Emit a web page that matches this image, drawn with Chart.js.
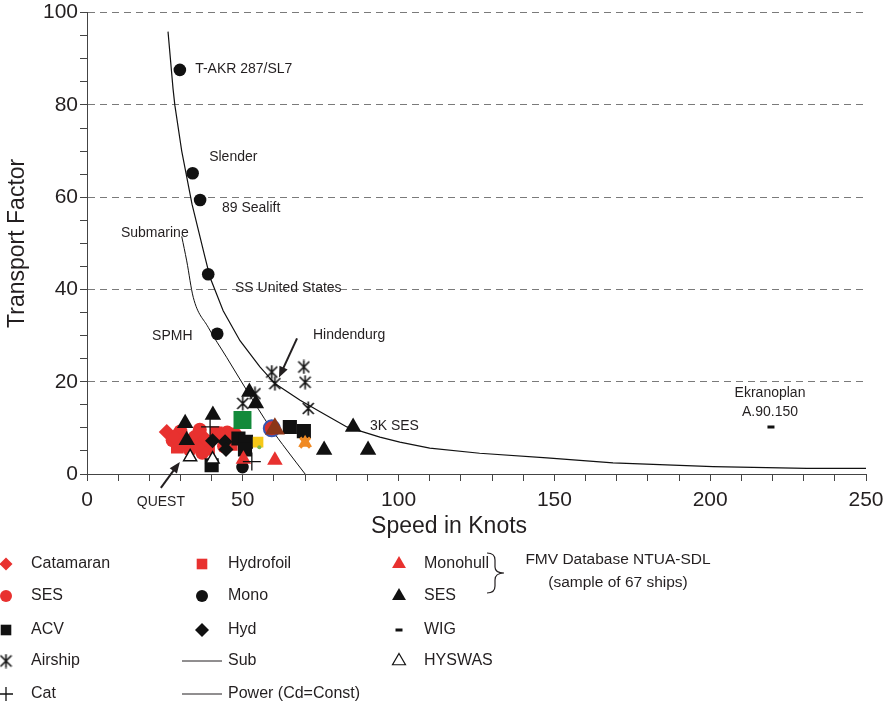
<!DOCTYPE html>
<html>
<head>
<meta charset="utf-8">
<script src="https://cdn.jsdelivr.net/npm/chart.js@4/dist/chart.umd.min.js"></script>
<style>
  html, body { margin: 0; padding: 0; background: #fff; }
  #wrap { width: 890px; height: 708px; }
</style>
</head>
<body>
<div id="wrap"><canvas id="tf" width="890" height="708"></canvas></div>
<script>
// [speed in knots, transport factor]
const catamaran = [[25.6,9.1],[28.0,8.0],[30.3,6.4],[35.5,6.2],[38.0,7.6],[42.5,8.6]];
const sesRed    = [[27.5,7.3],[30.0,9.2],[33.0,5.3],[34.6,8.0],[37.0,4.6],[36.2,9.6],[45.0,9.0],[47.5,8.6],[44.0,6.0]];
const hydrofoil = [[29.0,5.8],[32.0,7.0],[39.0,5.4],[41.5,8.9],[46.3,6.4]];
const monohull  = [[50.2,3.2],[60.3,3.0]];
const sesBlack  = [[31.5,11.0],[32.0,7.3],[40.4,12.8],[52.1,17.8],[54.2,15.3],[76.1,5.2],[85.4,10.2],[90.2,5.2]];
const mono      = [[29.8,87.6],[33.9,65.2],[36.3,59.4],[38.9,43.3],[41.8,30.4],[49.9,1.5]];
const acv       = [[48.6,7.7],[51.0,7.0],[50.7,5.3],[65.1,10.2],[69.6,9.3],[40.0,1.9]];
const hyd       = [[40.3,7.2],[44.3,7.0],[44.6,5.3]];
const airship   = [[59.3,22.1],[60.3,19.6],[69.6,23.2],[70.0,19.9],[71.0,14.2],[50.0,15.3],[53.9,17.4]];
const cat       = [[39.5,10.2],[52.9,2.7]];
const wig       = [[219.5,10.2]];
const hyswas    = [[33.1,3.7],[40.3,3.2]];
// unlabelled coloured points
const greenPt   = [[49.9,11.7]];
const yellowPt  = [[54.9,6.9]];
const limePt    = [[55.3,5.8]];
const ringPt    = [[59.3,9.9]];
const brownPt   = [[60.3,9.8]];
const orangePt  = [[70.0,6.8]];
// curves
const subCurve   = [[30.4,51.5],[32.0,46.2],[34.1,38.3],[38.9,31.8],[44.8,25.3],[51.3,18.1],[58.7,10.2],[64.1,5.2],[70.0,0]];
const powerCurve = [[26.0,95.9],[27.6,83.6],[28.2,79.9],[30.4,70.0],[33.7,58.5],[37.9,46.9],[39.5,42.6],[43.7,35.4],[49.1,28.9],
                    [55.5,23.2],[60.3,19.6],[68.4,16.0],[74.8,13.5],[83.4,10.2],[94.0,8.0],[100.4,6.9],[110,5.6],[126,4.5],
                    [147.6,3.5],[168.8,2.4],[200.9,1.6],[231,1.2],[250,1.2]];

const notes = [
  { text: 'T-AKR 287/SL7', x: 34.7, y: 87.7 },
  { text: 'Slender', x: 39.2, y: 68.7 },
  { text: '89 Sealift', x: 43.3, y: 57.7 },
  { text: 'Submarine', x: 10.9, y: 52.3 },
  { text: 'SS United States', x: 47.5, y: 40.2 },
  { text: 'SPMH', x: 20.9, y: 29.8 },
  { text: 'Hindendurg', x: 72.5, y: 30.0 },
  { text: '3K SES', x: 90.8, y: 10.4 },
  { text: 'Ekranoplan', x: 219.2, y: 17.5, align: 'center' },
  { text: 'A.90.150', x: 219.2, y: 13.4, align: 'center' },
  { text: 'QUEST', x: 23.7, y: -6.0, align: 'center' }
];
const arrows = [
  { from: [67.4, 29.4], to: [61.6, 20.9] },
  { from: [23.7, -3.0], to: [29.8, 2.6] }
];

const FONT = '"Liberation Sans", Arial, Helvetica, sans-serif';
const INK = '#231f20';
Chart.defaults.font.family = FONT;

const pts = a => a.map(([x, y]) => ({ x, y }));

function makeAsterisk(w, h, lw) {
  const c = document.createElement('canvas');
  c.width = w; c.height = h;
  const g = c.getContext('2d');
  g.strokeStyle = '#111'; g.lineWidth = lw;
  const mx = w / 2, my = h / 2, dx = w / 2 - 1, dy = h / 2 - 2;
  g.beginPath();
  g.moveTo(mx - dx, my - dy); g.lineTo(mx + dx, my + dy);
  g.moveTo(mx + dx, my - dy); g.lineTo(mx - dx, my + dy);
  g.moveTo(mx, 0.5); g.lineTo(mx, h - 0.5);
  g.stroke();
  return c;
}
const asterisk = makeAsterisk(13, 15, 1.6);

function marker(data, style, radius, fill, stroke, bw, order) {
  return {
    data: pts(data), pointStyle: style, pointRadius: radius,
    backgroundColor: fill, borderColor: stroke || fill, pointBorderWidth: bw || 0,
    order: order
  };
}

const datasets = [
  { type: 'line', data: pts(powerCurve), borderColor: '#111', borderWidth: 1.2, pointRadius: 0, showLine: true, fill: false, tension: 0, order: 20 },
  { type: 'line', data: pts(subCurve), borderColor: '#111', borderWidth: 1, pointRadius: 0, showLine: true, fill: false, cubicInterpolationMode: 'monotone', order: 20 },
  marker(catamaran, 'rectRot', 8, '#e8312f', null, 0, 10),
  marker(sesRed, 'circle', 7, '#e8312f', null, 0, 10),
  marker(hydrofoil, 'rect', 9, '#e8312f', null, 0, 10),
  marker(sesBlack, 'triangle', 9.5, '#111', null, 0, 5),
  marker(mono, 'circle', 6.3, '#111', null, 0, 5),
  marker(acv, 'rect', 10, '#111', null, 0, 5),
  marker(hyd, 'rectRot', 7.5, '#111', null, 0, 5),
  marker(monohull, 'triangle', 9, '#e8312f', null, 0, 4),
  marker(greenPt, 'rect', 12.7, '#138a3a', null, 0, 6),
  marker(yellowPt, 'rect', 7.5, '#f6c818', null, 0, 3),
  marker(limePt, 'circle', 2, '#7ab648', null, 0, 2),
  marker(brownPt, 'triangle', 11.5, '#8b3518', null, 0, 3),
  marker(ringPt, 'circle', 8, '#d8302a', '#3a56b0', 2, 4),
  marker(orangePt, 'crossRot', 7, '#f08a24', '#f08a24', 3, 3),
  marker(orangePt, 'triangle', 8, '#f08a24', null, 0, 3),
  marker(hyswas, 'triangle', 7.5, '#fff', '#111', 1.5, 2),
  marker(wig, 'line', 3.5, '#111', '#111', 3, 2),
  marker(airship, asterisk, 7, '#111', null, 0, 1),
  marker(cat, 'cross', 9, '#111', '#111', 1.3, 1)
];

const legendCols = [
  { mx: 6, tx: 31, items: [
    { label: 'Catamaran', style: 'rectRot', r: 6.5, fill: '#e8312f' },
    { label: 'SES', style: 'circle', r: 6, fill: '#e8312f' },
    { label: 'ACV', style: 'rect', r: 7.5, fill: '#111' },
    { label: 'Airship', style: asterisk, r: 6, fill: '#111' },
    { label: 'Cat', style: 'cross', r: 7, fill: '#111', bw: 1.3 }
  ]},
  { mx: 202, tx: 228, items: [
    { label: 'Hydrofoil', style: 'rect', r: 7.5, fill: '#e8312f' },
    { label: 'Mono', style: 'circle', r: 6, fill: '#111' },
    { label: 'Hyd', style: 'rectRot', r: 7, fill: '#111' },
    { label: 'Sub', line: true },
    { label: 'Power (Cd=Const)', line: true }
  ]},
  { mx: 399, tx: 424, items: [
    { label: 'Monohull', style: 'triangle', r: 8, fill: '#e8312f' },
    { label: 'SES', style: 'triangle', r: 8, fill: '#111' },
    { label: 'WIG', style: 'line', r: 3.5, fill: '#111', bw: 3 },
    { label: 'HYSWAS', style: 'triangle', r: 7.5, fill: '#fff', bw: 1.2 }
  ]}
];
const legendRows = [564, 596, 630, 661, 694];

function drawArrow(ctx, x1, y1, x2, y2) {
  const a = Math.atan2(y2 - y1, x2 - x1), L = 11, W = 4.5;
  ctx.beginPath();
  ctx.moveTo(x1, y1);
  ctx.lineTo(x2 - L * 0.7 * Math.cos(a), y2 - L * 0.7 * Math.sin(a));
  ctx.stroke();
  ctx.beginPath();
  ctx.moveTo(x2, y2);
  ctx.lineTo(x2 - L * Math.cos(a) + W * Math.sin(a), y2 - L * Math.sin(a) - W * Math.cos(a));
  ctx.lineTo(x2 - L * Math.cos(a) - W * Math.sin(a), y2 - L * Math.sin(a) + W * Math.cos(a));
  ctx.closePath();
  ctx.fill();
}

const extras = {
  id: 'extras',
  afterDraw(chart) {
    const { ctx, scales: { x, y }, chartArea } = chart;
    ctx.save();
    ctx.fillStyle = INK;
    ctx.strokeStyle = INK;
    ctx.textBaseline = 'middle';

    // point labels
    ctx.font = '14px ' + FONT;
    notes.forEach(n => {
      ctx.textAlign = n.align || 'left';
      ctx.fillText(n.text, x.getPixelForValue(n.x), y.getPixelForValue(n.y));
    });
    ctx.lineWidth = 2;
    arrows.forEach(a => drawArrow(ctx, x.getPixelForValue(a.from[0]), y.getPixelForValue(a.from[1]),
                                       x.getPixelForValue(a.to[0]), y.getPixelForValue(a.to[1])));

    // x axis title
    ctx.font = '23px ' + FONT;
    ctx.textAlign = 'center';
    ctx.fillText('Speed in Knots', x.getPixelForValue(116.2), chartArea.bottom + 53);

    // legend
    ctx.font = '16px ' + FONT;
    legendCols.forEach(col => {
      col.items.forEach((it, i) => {
        const ry = legendRows[i];
        if (it.line) {
          ctx.lineWidth = 1;
          ctx.beginPath(); ctx.moveTo(col.mx - 20, ry); ctx.lineTo(col.mx + 20, ry); ctx.stroke();
        } else {
          ctx.fillStyle = it.fill;
          ctx.strokeStyle = '#111';
          ctx.lineWidth = it.bw || 0;
          Chart.helpers.drawPoint(ctx, { pointStyle: it.style, radius: it.r, rotation: 0, borderWidth: it.bw || 0 }, col.mx, ry);
        }
        ctx.fillStyle = INK;
        ctx.strokeStyle = INK;
        ctx.textAlign = 'left';
        ctx.fillText(it.label, it.line ? col.mx + 26 : col.tx, ry);
      });
    });

    // brace + database note
    ctx.lineWidth = 1.2;
    ctx.beginPath();
    ctx.moveTo(487, 553);
    ctx.quadraticCurveTo(495, 553, 495, 560);
    ctx.lineTo(495, 567);
    ctx.quadraticCurveTo(495, 573, 504, 573);
    ctx.quadraticCurveTo(495, 573, 495, 580);
    ctx.lineTo(495, 586);
    ctx.quadraticCurveTo(495, 593, 487, 593);
    ctx.stroke();
    ctx.font = '15.5px ' + FONT;
    ctx.textAlign = 'center';
    ctx.fillText('FMV Database NTUA-SDL', 618, 560);
    ctx.fillText('(sample of 67 ships)', 618, 583);
    ctx.restore();
  }
};

new Chart(document.getElementById('tf'), {
  type: 'scatter',
  data: { datasets },
  options: {
    responsive: false,
    animation: false,
    devicePixelRatio: 1,
    layout: { padding: { left: 0, top: 11, right: 24, bottom: 174 } },
    plugins: { legend: { display: false }, tooltip: { enabled: false } },
    scales: {
      x: {
        type: 'linear', min: 0, max: 250,
        ticks: {
          stepSize: 10, autoSkip: false, maxRotation: 0, padding: 7, color: INK,
          font: { size: 21 },
          callback: v => (v % 50 === 0 ? v : '')
        },
        grid: { drawOnChartArea: false, tickLength: 7, tickColor: '#444' },
        border: { color: '#444', width: 1 },
        afterFit: s => { s.height = 60; s.paddingLeft = 0; s.paddingRight = 0; }
      },
      y: {
        type: 'linear', min: 0, max: 100,
        ticks: {
          stepSize: 5, autoSkip: false, padding: 2, color: INK,
          font: { size: 21 },
          callback: v => (v % 20 === 0 ? v : '')
        },
        grid: {
          tickLength: 7, tickColor: '#444',
          color: c => (c.tick && c.tick.value > 0 && c.tick.value % 20 === 0 ? '#7a7a7a' : 'rgba(0,0,0,0)')
        },
        border: { color: '#444', width: 1, dash: [7, 5] },
        title: { display: true, text: 'Transport Factor', color: INK, font: { size: 23 }, padding: { top: 4, bottom: 0 } },
        afterFit: s => { s.width = 87; s.paddingTop = 0; s.paddingBottom = 0; }
      }
    }
  },
  plugins: [extras]
});
</script>
</body>
</html>
